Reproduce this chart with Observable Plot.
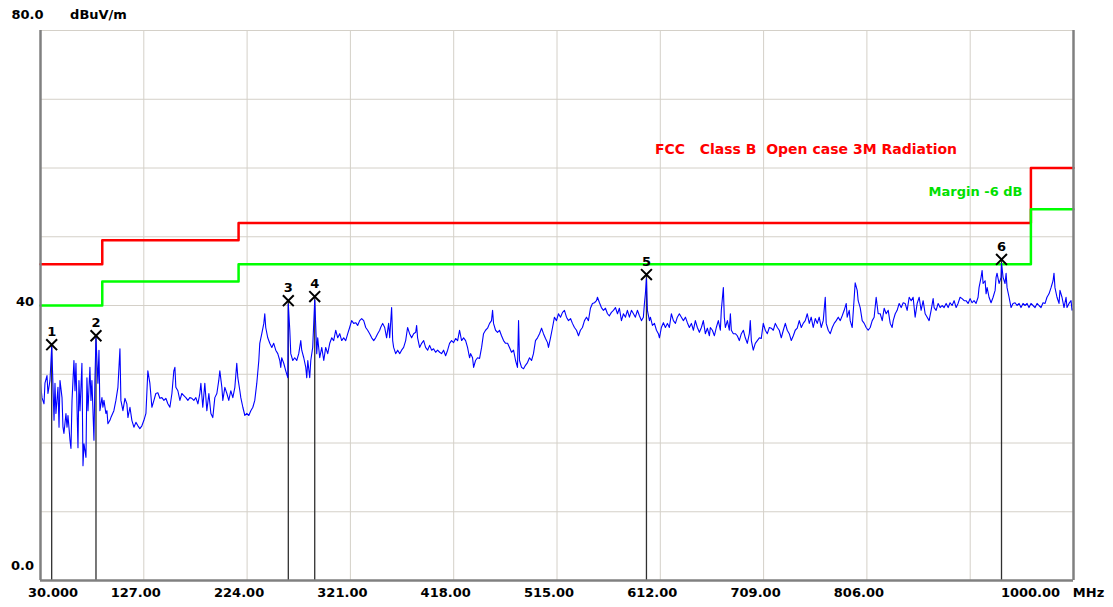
<!DOCTYPE html>
<html><head><meta charset="utf-8">
<script src="https://cdn.jsdelivr.net/npm/d3@7"></script>
<script src="https://cdn.jsdelivr.net/npm/@observablehq/plot@0.6"></script>
<style>html,body{margin:0;padding:0;background:#fff;overflow:hidden}svg{display:block}</style>
</head><body><div id="chart"></div>
<script>
// Measured sweep: [frequency MHz, level dBuV/m]
const sweep = [
[30.0,28.7],[31.4,26.6],[33.3,25.7],[34.2,28.7],[36.1,29.8],[37.0,27.2],[38.9,29.1],[40.5,34.0],[41.3,30.5],[42.7,23.3],
[43.6,28.7],[44.5,24.3],[46.4,28.1],[47.4,22.3],[48.3,29.1],[50.2,26.6],[51.1,22.3],[52.0,21.4],[53.9,24.3],[54.9,22.3],
[55.8,24.0],[57.7,20.4],[58.6,19.2],[59.6,26.2],[61.4,32.0],[62.4,27.6],[63.3,31.6],[65.2,19.3],[66.1,29.1],[67.1,24.7],
[68.9,31.6],[69.9,16.7],[70.8,19.9],[72.7,17.9],[73.6,29.5],[74.6,24.7],[76.4,31.0],[77.4,26.2],[78.3,29.1],[80.2,20.4],
[81.1,29.1],[82.1,35.3],[83.9,28.7],[84.9,33.5],[85.8,24.7],[87.7,26.6],[88.6,25.2],[89.6,26.2],[91.4,24.3],[92.4,24.7],
[93.3,22.8],[95.2,23.3],[96.1,23.7],[98.9,24.7],[100.8,26.2],[102.7,28.1],[104.6,33.7],[105.5,26.2],[107.4,24.7],[109.3,26.5],
[111.1,25.7],[112.1,23.7],[114.0,25.2],[115.8,23.3],[117.7,22.3],[119.6,23.0],[121.5,22.5],[123.3,22.1],[125.2,22.5],[127.1,23.3],
[129.0,24.3],[130.8,30.5],[132.7,28.7],[134.6,25.2],[136.5,26.2],[138.3,27.2],[140.2,27.3],[142.1,26.5],[144.0,26.6],[145.9,26.2],
[147.7,26.5],[149.6,25.7],[151.5,25.2],[153.4,27.2],[155.2,30.5],[156.2,31.0],[157.1,28.1],[159.0,27.6],[160.9,26.2],[162.7,27.2],
[164.6,26.9],[166.5,26.6],[168.4,26.2],[170.2,26.6],[172.1,26.5],[174.0,26.2],[175.9,26.6],[177.8,25.7],[179.6,27.2],
[180.6,28.7],[182.4,25.2],[184.3,28.7],[186.2,24.7],[188.1,27.2],[190.0,24.3],[191.8,23.7],[193.7,26.6],[195.6,27.2],[197.4,29.1],
[198.4,30.5],[200.3,28.1],[201.2,26.2],[203.1,28.1],[205.0,27.2],[206.8,26.2],[208.7,27.6],[210.6,26.6],[212.5,28.1],[214.3,31.6],
[215.3,29.5],[217.2,27.6],[218.1,26.6],[220.0,25.2],[221.9,24.0],[223.7,24.3],[225.6,24.0],[227.5,24.7],[229.4,25.2],[231.2,26.2],
[233.1,28.7],[235.0,32.0],[235.9,34.5],[237.8,35.9],[239.7,37.4],[240.6,38.8],[241.5,36.8],[243.4,35.3],[245.3,34.5],[247.2,33.9],
[249.0,34.5],[250.9,33.5],[252.8,33.0],[254.7,32.0],[255.6,31.0],[256.5,32.4],[258.4,31.6],[260.3,30.5],[262.2,29.5],[262.7,40.2],
[264.1,36.4],[265.0,33.0],[266.9,32.0],[268.7,32.4],[270.6,32.0],[272.5,33.0],[274.4,34.9],[275.3,33.5],[277.2,32.4],[279.1,31.0],
[280.0,29.5],[281.0,32.0],[282.8,29.5],[283.8,32.0],[285.6,33.9],[287.5,40.8],[288.5,36.8],[289.4,33.0],[290.3,35.3],[292.2,32.4],
[294.1,33.9],[296.0,32.0],[297.8,33.9],[299.7,33.0],[301.6,34.5],[303.5,35.3],[305.3,34.9],[307.2,36.4],[309.1,35.3],[311.0,35.9],
[312.8,34.9],[314.7,35.3],[316.6,34.9],[318.5,35.9],[320.3,36.8],[322.2,37.8],[324.1,37.4],[326.0,37.5],[327.8,37.1],[329.7,37.8],
[331.6,38.1],[333.5,37.8],[335.4,36.8],[337.2,36.4],[339.1,35.9],[341.0,35.3],[342.9,34.9],[344.7,35.3],[346.6,35.9],[348.5,36.4],
[349.4,36.8],[351.3,37.4],[353.2,36.8],[355.0,35.3],[356.9,37.4],[357.9,35.3],[359.7,39.7],[360.7,34.9],[361.6,33.9],[363.5,33.0],
[365.4,33.5],[367.3,33.0],[369.1,33.5],[371.0,33.9],[372.9,34.9],[374.7,36.8],[376.6,35.9],[378.5,35.3],[380.4,35.9],[382.3,36.1],
[383.2,37.1],[384.1,35.3],[386.0,33.9],[387.9,34.5],[389.8,34.9],[391.6,33.9],[393.5,33.5],[395.4,34.2],[397.3,33.5],[399.1,33.7],
[401.0,33.2],[402.9,33.5],[404.8,33.2],[406.6,33.0],[408.5,33.5],[410.4,32.7],[412.3,33.5],[414.1,34.5],[416.0,34.9],[417.9,34.6],
[419.8,35.2],[421.7,34.9],[423.5,36.4],[425.4,34.9],[427.3,35.3],[429.2,34.9],[431.0,33.9],[432.9,32.4],[433.9,33.0],[435.7,32.4],
[436.7,31.0],[438.5,32.0],[440.4,32.4],[442.3,32.3],[444.2,33.9],[446.0,35.9],[447.9,36.4],[449.8,36.7],[451.7,37.4],[453.5,37.8],
[454.5,39.3],[455.4,37.4],[457.3,36.4],[459.2,36.1],[461.0,36.4],[462.9,35.6],[464.8,34.9],[466.7,34.5],[468.6,34.5],[470.4,33.9],
[472.3,33.2],[474.2,33.5],[476.1,32.0],[477.9,31.0],[478.9,37.8],[479.8,32.0],[481.7,31.0],[483.6,30.8],[485.4,31.3],[487.3,31.7],
[489.2,32.4],[491.1,32.0],[492.9,33.0],[494.8,34.9],[496.7,35.3],[498.6,35.9],
[500.5,36.7],[502.3,35.9],[504.2,35.2],[506.1,34.6],[507.0,33.9],[508.9,35.3],[510.8,36.8],[512.6,38.3],[514.5,37.8],[516.4,38.8],
[518.3,38.3],[520.2,39.0],[522.0,39.3],[523.9,38.3],[525.8,37.8],[527.7,38.1],[529.5,37.4],[531.4,36.8],[533.3,36.4],[535.2,35.6],
[537.0,36.4],[538.9,36.8],[540.8,37.8],[542.7,38.3],[544.5,37.8],[546.4,39.6],[548.3,40.3],[550.2,40.4],[552.1,40.7],[553.0,41.2],
[554.9,40.4],[556.7,39.7],[558.6,39.3],[560.5,39.6],[562.4,38.8],[564.2,38.5],[566.1,39.0],[568.0,39.3],[569.9,39.7],[571.8,38.8],
[573.6,39.6],[575.5,37.8],[577.4,38.8],[579.3,38.3],[581.1,39.3],[583.0,38.3],[584.9,39.3],[586.8,38.8],[588.6,38.3],[590.5,39.3],
[592.4,38.5],[594.3,37.8],[596.1,38.3],[597.1,40.3],[598.0,41.7],[599.0,43.9],[599.9,39.3],[601.8,37.8],[602.7,38.3],[604.6,37.1],
[606.5,37.4],[608.4,36.4],[610.2,35.9],[611.2,35.3],[613.0,36.8],[614.9,37.5],[616.8,36.8],[618.7,37.4],[620.5,36.8],[622.4,38.8],
[624.3,37.8],[626.2,37.4],[628.0,38.3],[629.9,38.8],[631.8,38.3],[633.7,37.8],[635.6,38.3],[637.4,37.5],[639.3,36.8],[641.2,37.4],
[643.1,36.4],[644.9,37.8],[646.8,36.8],[648.7,36.1],[650.6,36.8],[652.4,37.8],[654.3,35.9],[656.2,36.7],[658.1,35.6],
[659.0,36.8],[660.9,36.4],[662.8,35.6],[664.6,36.8],[666.5,37.8],[668.4,36.4],[669.3,39.3],[671.2,42.6],[672.1,38.3],[673.1,36.8],
[675.0,37.8],[676.8,36.4],[677.8,38.8],[678.7,36.4],[680.6,35.9],[682.5,35.9],[684.3,35.6],[686.2,34.9],[688.1,35.9],[690.0,36.4],
[691.8,35.3],[693.7,34.5],[695.6,35.9],[696.5,37.8],[697.5,34.9],[699.3,33.5],[701.2,34.5],[703.1,34.9],[705.0,35.3],[706.8,35.2],
[708.7,37.4],[710.6,36.4],[712.5,35.9],[714.4,36.8],[716.2,36.7],[718.1,36.4],[720.0,37.4],[721.9,36.8],[723.7,36.4],[725.6,35.3],
[727.5,36.4],[729.4,37.4],[731.2,36.4],[733.1,35.9],[735.0,34.9],[736.9,35.6],[738.7,36.4],[740.6,36.7],[742.5,37.8],[744.4,36.8],
[746.2,37.4],[748.1,37.8],[750.0,38.8],[751.9,37.4],[753.7,38.3],[755.6,36.8],[757.5,38.1],[759.4,37.4],[761.2,38.3],[763.1,36.8],
[765.0,37.8],[766.9,41.2],[767.8,37.4],[769.7,36.4],[771.6,35.9],[773.5,36.8],[775.3,37.4],[777.2,37.8],[779.1,38.3],[781.0,37.8],
[782.8,38.5],[784.7,39.3],[786.6,40.3],[787.5,38.3],[789.4,39.3],[790.3,37.8],[792.2,36.8],[794.1,41.2],[795.0,43.3],[796.9,42.2],
[797.8,40.7],[799.7,39.7],[801.6,37.8],[803.5,37.4],[805.3,36.8],[807.2,36.4],[809.1,36.8],[811.0,37.8],[812.8,38.3],[814.7,41.2],
[816.6,38.8],
[818.5,38.8],[820.4,37.8],[822.2,39.6],[824.1,38.8],[826.0,39.3],[827.9,37.4],[829.7,36.8],[830.7,37.8],[832.6,38.8],[834.4,39.3],
[836.3,40.3],[838.2,39.7],[840.1,40.4],[841.9,40.3],[843.8,39.3],[845.7,41.2],[847.6,40.7],[849.4,41.2],[851.3,38.3],[853.2,40.3],
[855.1,41.2],[856.9,39.3],[858.8,40.7],[860.7,38.8],[862.6,38.3],[864.4,37.8],[866.3,39.3],[868.2,41.0],[869.1,39.7],[871.0,39.3],
[872.9,40.3],[874.8,39.7],[876.6,40.0],[878.5,39.7],[880.4,40.3],[882.3,39.7],[884.1,40.4],[886.0,40.0],[887.9,40.7],[889.8,39.7],
[891.6,40.3],[893.5,41.2],[895.4,41.0],[897.3,40.7],[899.1,40.7],[901.0,40.3],[902.9,41.0],[904.8,40.4],[906.6,40.7],[908.5,40.3],
[910.4,41.2],[911.3,42.6],[913.2,44.1],[914.2,45.1],[915.1,43.2],[917.0,43.6],[917.9,41.7],[918.9,42.6],[920.7,41.2],[922.6,40.4],
[924.5,41.2],[926.4,42.2],[927.3,44.1],[928.2,44.7],[930.1,43.2],[932.0,44.1],[932.4,46.1],[933.9,44.1],[935.7,43.2],[936.7,44.7],
[937.6,42.6],[939.5,41.2],[941.4,39.7],[943.2,40.3],[945.1,40.4],[947.0,40.0],[948.9,40.3],[950.7,39.7],[952.6,40.3],[954.5,40.0],
[956.4,40.3],[958.2,39.7],[960.1,40.3],[962.0,40.0],[963.9,39.7],[965.8,40.3],[967.6,40.0],[969.5,39.7],[971.4,40.4],[973.3,40.3],
[975.1,41.2],[977.0,41.7],[978.9,42.6],[980.8,43.6],[981.7,44.7],[982.6,42.6],[984.5,41.2],[986.4,40.3],[987.3,42.2],[989.2,41.2],
[991.1,39.7],[993.0,41.2],[993.9,39.7],[995.8,40.3],[997.7,40.7],[998.6,39.3],[1000,39.6]
];

// FCC Class B limit (red) and -6 dB margin (green), step boundaries in MHz
const limitFreq   = [30, 88, 216, 960, 1000];
const limitLevel  = [46, 49.5, 52, 60, 60];
const marginLevel = [40, 43.5, 46, 54, 54];

// Peak markers
const markerLabel = ["1", "2", "3", "4", "5", "6"];
const markerFreq  = [40.5, 82.1, 262.7, 287.5, 599.0, 932.4];
const markerLevel = [34.3, 35.6, 40.7, 41.3, 44.5, 46.7];

// Axis ticks and labels
const gridFreq = [30, 127, 224, 321, 418, 515, 612, 709, 806, 903, 1000];
const gridLevel = [0, 10, 20, 30, 40, 50, 60, 70, 80];
const xTicks = [127, 224, 321, 418, 515, 612, 709, 806];
const xTickLabels = ["127.00", "224.00", "321.00", "418.00", "515.00", "612.00", "709.00", "806.00"];
const xStartLabel = "30.000";
const xEndLabel = "1000.00";
const xUnit = "MHz";
const yTop = "80.0", yMid = "40", yBottom = "0.0", yUnit = "dBuV/m";
const legendLimit = "FCC\u00a0\u00a0\u00a0Class B\u00a0\u00a0Open case 3M Radiation";
const legendMargin = "Margin -6 dB";

const FONT = "'DejaVu Sans', sans-serif";
const rows = sweep.map(([f, v]) => ({f, v}));
const limits = limitFreq.map((f, i) => ({f, limit: limitLevel[i], margin: marginLevel[i]}));
const markers = markerFreq.map((f, i) => ({f, v: markerLevel[i], n: markerLabel[i]}));
const txt = {fontFamily: FONT, fontWeight: "bold", fontSize: 13, fill: "#000", textAnchor: "middle", lineAnchor: "middle"};

const chart = Plot.plot({
  width: 1113, height: 607,
  marginLeft: 40, marginRight: 40, marginTop: 30, marginBottom: 27,
  x: {domain: [30, 1000], axis: null},
  y: {domain: [0, 80], axis: null},
  style: {background: "#fff", fontFamily: FONT},
  marks: [
    Plot.ruleX(gridFreq, {stroke: "#d4d0c8", strokeWidth: 1}),
    Plot.ruleY(gridLevel, {stroke: "#d4d0c8", strokeWidth: 1}),
    Plot.ruleX(markers, {x: "f", y1: 0, y2: "v", stroke: "#303030", strokeWidth: 1.3}),
    Plot.line(limits, {x: "f", y: "limit", curve: "step-after", stroke: "#ff0000", strokeWidth: 2.5}),
    Plot.line(limits, {x: "f", y: "margin", curve: "step-after", stroke: "#00ff00", strokeWidth: 2.5}),
    Plot.line(rows, {x: "f", y: "v", stroke: "#0000ff", strokeWidth: 1.1}),
    Plot.dot(markers, {x: "f", y: "v", symbol: "times", r: 5, stroke: "#000", strokeWidth: 2}),
    Plot.text(markers, {x: "f", y: "v", text: "n", dy: -13, ...txt}),
    // frame
    Plot.ruleX([30, 1000], {stroke: "#808080", strokeWidth: 2.5}),
    Plot.ruleY([0], {stroke: "#808080", strokeWidth: 2.5}),
    // x labels
    Plot.text(xTicks, {x: d => d, frameAnchor: "bottom", text: (d, i) => xTickLabels[i], dx: -8, dy: 12, ...txt}),
    Plot.text([xStartLabel], {x: () => gridFreq[0], frameAnchor: "bottom", text: d => d, dx: 12.5, dy: 12, ...txt}),
    Plot.text([xEndLabel], {x: () => gridFreq[gridFreq.length - 1], frameAnchor: "bottom", text: d => d, dx: -43, dy: 12, ...txt}),
    Plot.text([xUnit], {x: () => gridFreq[gridFreq.length - 1], frameAnchor: "bottom", text: d => d, dx: 15, dy: 12, ...txt}),
    // y labels
    Plot.text([yTop], {frameAnchor: "top-left", text: d => d, dx: -13, dy: -16, ...txt}),
    Plot.text([yUnit], {frameAnchor: "top-left", text: d => d, dx: 58, dy: -16, ...txt}),
    Plot.text([yMid], {x: () => 30, y: () => 40, text: d => d, dx: -15.5, dy: -4, ...txt}),
    Plot.text([yBottom], {frameAnchor: "bottom-left", text: d => d, dx: -18, dy: -15, ...txt}),
    // legend
    Plot.text([legendLimit], {frameAnchor: "top-left", text: d => d, dx: 765.5, dy: 119, ...txt, fontSize: 14, fill: "#ff0000"}),
    Plot.text([legendMargin], {frameAnchor: "top-left", text: d => d, dx: 935, dy: 161, ...txt, fill: "#00e000"})
  ]
});
document.getElementById("chart").appendChild(chart);
</script>
</body></html>
